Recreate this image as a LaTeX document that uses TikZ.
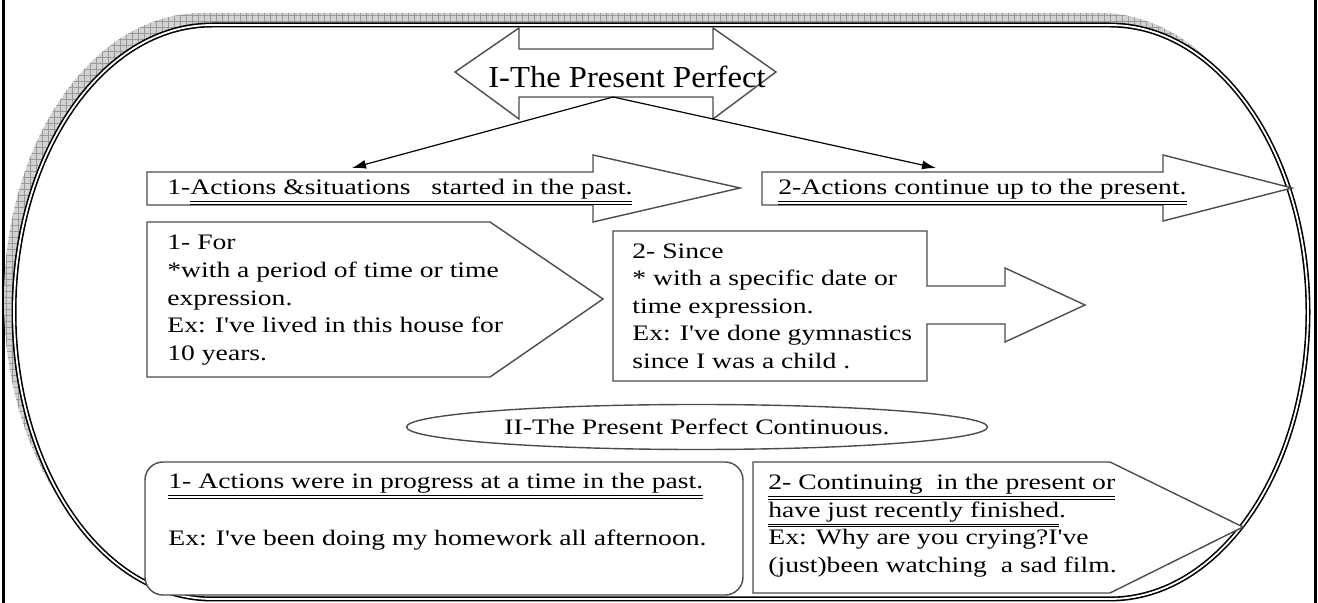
\documentclass[tikz,border=0pt]{standalone}
\usepackage{fontspec}
\setmainfont{Liberation Serif}[Ligatures=TeXOff, FakeStretch=1.07]
\newfontfamily\bodyface{Liberation Serif}[Ligatures=TeXOff, FakeStretch=1.25]
\usetikzlibrary{arrows.meta, patterns, shapes.geometric}

\newcommand{\bodyfont}{\bodyface\fontsize{11.05}{13.8}\selectfont}
\newcommand{\titlefont}{\fontsize{15.25}{18}\selectfont}
\newsavebox{\ulbox}
% double underline
\newcommand{\dul}[1]{\sbox{\ulbox}{#1}\smash{\rlap{\rule[-3.6pt]{\wd\ulbox}{0.5pt}}\rlap{\rule[-4.9pt]{\wd\ulbox}{0.5pt}}}\usebox{\ulbox}}

\begin{document}
\begin{tikzpicture}[x=0.5pt, y=-0.5pt,
    shape line/.style={draw=black!70, line width=0.7pt, fill=white},
    body/.style={font=\bodyfont, inner sep=0pt, align=left},
    link/.style={-{Latex[length=7pt, width=4.5pt]}, line width=0.6pt}]

    % Page and side rules
    \useasboundingbox (0,0) rectangle (1318,603);
    \draw[line width=1.5pt] (3,0) -- (3,603);
    \draw[line width=1.5pt] (1315,0) -- (1315,603);

    % Frame corners
    \def\rx{198}
    \def\ry{287}
    \def\xl{212}    % left corner centre
    \def\xr{1110}   % right corner centre
    \def\yt{25}     % top edge
    \def\yb{599}    % bottom edge

    % Shadow of the frame
    \begin{scope}[shift={(-10,-12)}]
        \fill[gray!35] (\xl,\yt) arc[start angle=270, end angle=90, x radius=\rx, y radius=\ry]
            -- (\xr,\yb) arc[start angle=90, end angle=-90, x radius=\rx, y radius=\ry] -- cycle;
        \fill[pattern=grid, pattern color=gray!80] (\xl,\yt) arc[start angle=270, end angle=90, x radius=\rx, y radius=\ry]
            -- (\xr,\yb) arc[start angle=90, end angle=-90, x radius=\rx, y radius=\ry] -- cycle;
    \end{scope}
    % Frame
    \draw[double, line width=0.8pt, double distance=0.9pt, fill=white] (\xl,\yt)
        arc[start angle=270, end angle=90, x radius=\rx, y radius=\ry]
        -- (\xr,\yb) arc[start angle=90, end angle=-90, x radius=\rx, y radius=\ry] -- cycle;

    % Title arrow
    \draw[shape line] (455,72) -- (519,28) -- (519,49) -- (713,49) -- (713,28) -- (776,72)
        -- (713,119) -- (713,97) -- (519,97) -- (519,119) -- cycle;
    \node[font=\titlefont, inner sep=0pt, anchor=base] (title) at (627,88) {I-The Present Perfect};
    \coordinate (tfoot) at (613,97);

    % First row of arrows
    \draw[shape line] (147,172) -- (593,172) -- (593,155) -- (740,188) -- (593,222) -- (593,205) -- (147,205) -- cycle;
    \node[body, anchor=base west] (past) at (167,195) {1-\dul{Actions \&situations\ \ \ started in the past.}};
    \coordinate (past top) at (352,168);

    \draw[shape line] (762,172) -- (1163,172) -- (1163,155) -- (1292,188) -- (1163,221) -- (1163,205) -- (762,205) -- cycle;
    \node[body, anchor=base west] (upto) at (778,195) {\dul{2-Actions continue up to the present.}};
    \coordinate (upto top) at (936,168);

    \draw[link] (tfoot) -- (past top);
    \draw[link] (tfoot) -- (upto top);

    % For
    \draw[shape line] (147,222) -- (490,222) -- (603,299) -- (490,377) -- (147,377) -- cycle;
    \node[body, anchor=north west] (for) at (167,235) {1- For\\{*}with a period of time or time\\expression.\\Ex: I've lived in this house for\\10 years.};

    % Since
    \draw[shape line] (613,231) -- (927,231) -- (927,286) -- (1005,286) -- (1005,268) -- (1085,305)
        -- (1005,342) -- (1005,324) -- (927,324) -- (927,381) -- (613,381) -- cycle;
    \node[body, anchor=north west] (since) at (632,243) {2- Since\\{*} with a specific date or\\time expression.\\Ex: I've done gymnastics\\since I was a child .};

    % Present perfect continuous
    \node[ellipse, draw=black!70, line width=0.7pt, fill=white, minimum width=290.5pt, minimum height=22.5pt,
        inner sep=0pt, font=\bodyfont] (cont) at (697,427) {II-The Present Perfect Continuous.};

    \draw[shape line, rounded corners=9pt] (145,462) rectangle (743,595);
    \node[body, anchor=base west] (progress) at (168,489) {\dul{1- Actions were in progress at a time in the past.}};
    \node[body, anchor=base west] (homework) at (168,546) {Ex: I've been doing my homework all afternoon.};

    \draw[shape line] (753,462) -- (1110,462) -- (1243,527) -- (1110,593) -- (753,593) -- cycle;
    \node[body, anchor=north west] (finished) at (768,474) {\dul{2- Continuing\ \ in the present or}\\\dul{have just recently finished}.\\Ex: Why are you crying?I've\\(just)been watching\ \ a sad film.};

\end{tikzpicture}
\end{document}
